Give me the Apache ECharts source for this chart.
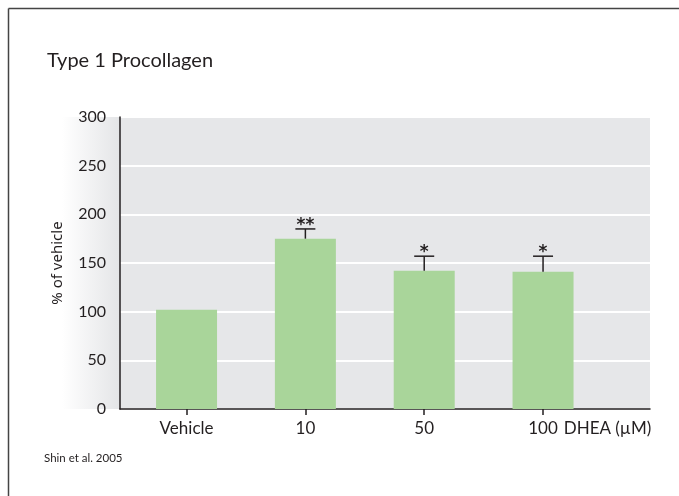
<!DOCTYPE html>
<html>
<head>
<meta charset="utf-8">
<script src="https://cdn.jsdelivr.net/npm/echarts@6/dist/echarts.min.js"></script>
<style>
  html, body { margin: 0; padding: 0; background: #fff; }
  #chart { width: 679px; height: 496px; }
</style>
</head>
<body>
<div id="chart"></div>
<script>
// Type 1 procollagen expression, % of vehicle, by DHEA concentration
const categories = ['Vehicle', '10', '50', '100'];
const values = [102, 175, 142, 141];
const errorTops = [null, 185, 157, 157];
const significance = ['', '**', '*', '*'];
const yTicks = [0, 50, 100, 150, 200, 250, 300];

const FONT = 'Lato, "Noto Sans", sans-serif';
const positions = categories.map((_, i) => i);

const chart = echarts.init(document.getElementById('chart'), null, { renderer: 'canvas' });

chart.setOption({
  animation: false,
  backgroundColor: '#ffffff',
  title: {
    text: 'Type 1 Procollagen',
    left: 42,
    top: 46,
    textStyle: { fontFamily: FONT, fontSize: 20, fontWeight: 'normal', color: '#231f20' }
  },
  graphic: [
    // page frame (left and top edges)
    { type: 'line', shape: { x1: 8.5, y1: 8.5, x2: 679, y2: 8.5 }, style: { stroke: '#444', lineWidth: 1.5 } },
    { type: 'line', shape: { x1: 8.5, y1: 8.5, x2: 8.5, y2: 496 }, style: { stroke: '#444', lineWidth: 1.5 } },
    // soft shading behind the value labels
    {
      type: 'rect', z: -10,
      shape: { x: 62, y: 117, width: 58, height: 292 },
      style: {
        fill: new echarts.graphic.LinearGradient(0, 0, 1, 0, [
          { offset: 0, color: '#ffffff' },
          { offset: 1, color: '#e4e5e7' }
        ])
      }
    },
    {
      type: 'text', left: 44, top: 452,
      style: { text: 'Shin et al. 2005', font: '11.5px ' + FONT, fill: '#231f20' }
    }
  ],
  grid: {
    left: 120, right: 29, top: 117, bottom: 87,
    show: true, backgroundColor: '#e6e7e9', borderWidth: 0
  },
  xAxis: {
    type: 'value',
    min: -0.56,
    max: 3.9,
    splitLine: { show: false },
    axisLine: { show: true, onZero: false, lineStyle: { color: '#231f20', width: 1.5 } },
    axisTick: { show: true, customValues: positions, length: 6, inside: false, lineStyle: { color: '#231f20', width: 1.5 } },
    axisLabel: {
      customValues: positions,
      margin: 11,
      fontFamily: FONT, fontSize: 17, color: '#231f20',
      formatter: v => categories[Math.round(v)]
    },
    name: 'DHEA (\u00b5M)',
    nameLocation: 'end',
    nameGap: 0,
    nameTextStyle: {
      fontFamily: FONT, fontSize: 17, color: '#231f20',
      align: 'right', verticalAlign: 'top', padding: [11, 0, 0, 0]
    }
  },
  yAxis: {
    type: 'value',
    min: yTicks[0],
    max: yTicks[yTicks.length - 1],
    interval: 50,
    axisLine: { show: true, onZero: false, lineStyle: { color: '#231f20', width: 1.5 } },
    axisTick: { show: false },
    splitLine: { show: true, lineStyle: { color: '#ffffff', width: 2 } },
    axisLabel: { margin: 14, fontFamily: FONT, fontSize: 16, color: '#231f20' },
    name: '% of vehicle',
    nameLocation: 'middle',
    nameGap: 55,
    nameRotate: 90,
    nameTextStyle: { fontFamily: '"Noto Sans", sans-serif', fontSize: 15, color: '#231f20' }
  },
  series: [
    {
      type: 'bar',
      barWidth: 61,
      itemStyle: { color: '#a9d59a' },
      data: positions.map(i => [i, values[i]]),
      z: 2
    },
    {
      type: 'custom',
      z: 3,
      data: positions.map(i => [i, values[i], errorTops[i]]),
      renderItem: function (params, api) {
        const i = api.value(0);
        const top = errorTops[i];
        if (top == null) return null;
        const base = api.coord([i, api.value(1)]);
        const tip = api.coord([i, top]);
        const half = 10;
        return {
          type: 'group',
          children: [
            { type: 'line', shape: { x1: base[0], y1: base[1], x2: tip[0], y2: tip[1] }, style: { stroke: '#231f20', lineWidth: 1.5 } },
            { type: 'line', shape: { x1: tip[0] - half, y1: tip[1], x2: tip[0] + half, y2: tip[1] }, style: { stroke: '#231f20', lineWidth: 1.5 } },
            {
              type: 'text',
              style: {
                text: significance[i], x: tip[0], y: tip[1] + 5,
                align: 'center', verticalAlign: 'bottom',
                font: 'bold 17px "DejaVu Sans", sans-serif', fill: '#231f20'
              }
            }
          ]
        };
      }
    }
  ]
});
</script>
</body>
</html>
